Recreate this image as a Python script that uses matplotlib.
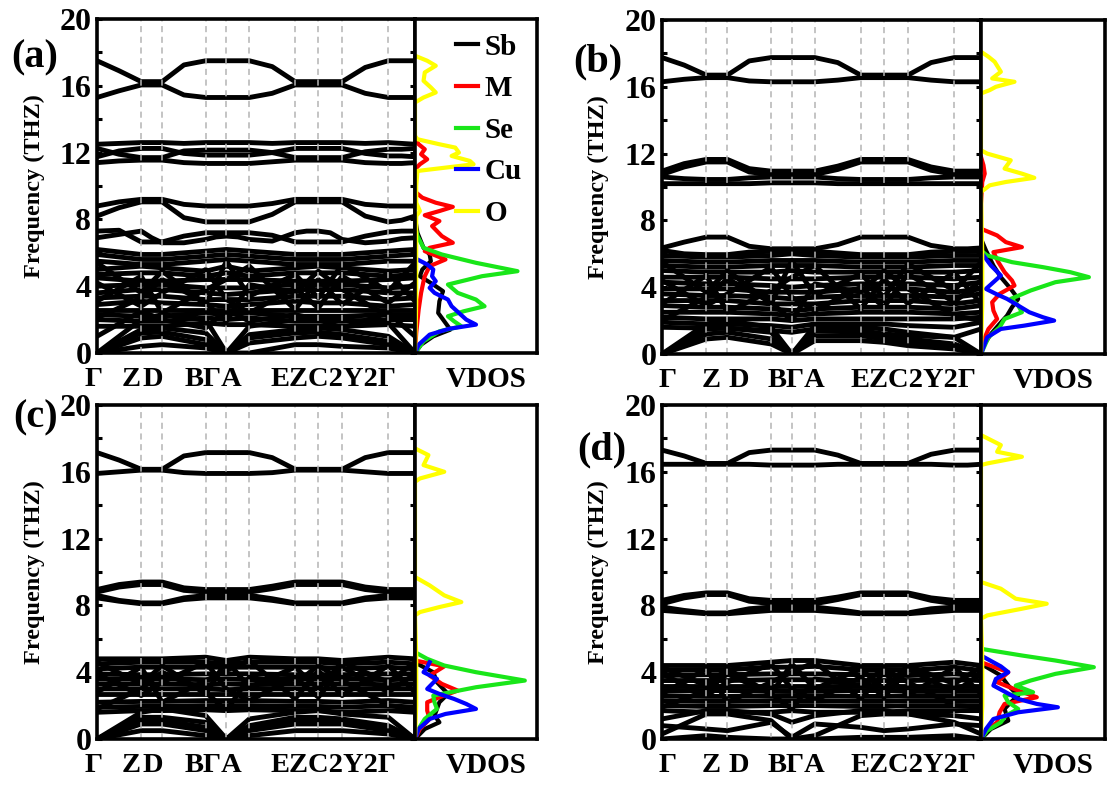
import numpy as np
import matplotlib
matplotlib.use("Agg")
import matplotlib.pyplot as plt

# ---------------------------- data ----------------------------

# high-symmetry points along the k-path (fraction of the path length)
K_NODES = [0.0, 0.139, 0.205, 0.342, 0.407, 0.479, 0.623, 0.696, 0.771, 0.916, 1.0]

# k-path labels and their x positions (axes fraction), left and right column
K_LABELS = ["Γ", "Z", "D", "BΓA", "EZC2Y2Γ"]
K_LABEL_X_LEFT = [-0.011, 0.108, 0.175, 0.365, 0.744]
K_LABEL_X_RIGHT = [0.016, 0.154, 0.241, 0.423, 0.787]

SPECIES = ["Sb", "M", "Se", "Cu", "O"]
SPECIES_COLORS = ["black", "#ff0000", "#19e619", "#0000ff", "#ffff00"]

# optical branches, sampled at the nodes and the middle of each segment (21 points)
A_OPT = [
    [17.5, 16.9, 16.25, 16.25, 16.25, 17.25, 17.5, 17.5, 17.5, 17.5, 17.5, 17.15, 16.25, 16.25, 16.25, 16.25, 16.25, 17.1, 17.5, 17.5, 17.5],
    [15.3, 15.7, 16.05, 16.05, 16.05, 15.45, 15.3, 15.3, 15.3, 15.3, 15.3, 15.55, 16.05, 16.05, 16.05, 16.05, 16.05, 15.55, 15.3, 15.3, 15.3],
    [12.5, 12.55, 12.6, 12.6, 12.6, 12.55, 12.6, 12.6, 12.6, 12.6, 12.6, 12.55, 12.6, 12.6, 12.6, 12.6, 12.6, 12.55, 12.6, 12.55, 12.5],
    [12.25, 11.9, 11.7, 11.7, 11.7, 12.1, 12.15, 12.15, 12.15, 12.15, 12.15, 12.0, 11.7, 11.7, 11.7, 11.7, 11.7, 12.05, 12.2, 12.2, 12.25],
    [11.75, 12.1, 12.25, 12.25, 12.25, 11.95, 11.85, 11.85, 11.85, 11.85, 11.85, 12.0, 12.25, 12.25, 12.25, 12.25, 12.25, 11.95, 11.8, 11.8, 11.75],
    [11.4, 11.5, 11.55, 11.55, 11.55, 11.4, 11.35, 11.35, 11.35, 11.35, 11.35, 11.45, 11.55, 11.55, 11.55, 11.55, 11.55, 11.4, 11.35, 11.35, 11.4],
    [8.8, 9.05, 9.2, 9.2, 9.2, 8.9, 8.8, 8.8, 8.8, 8.8, 8.8, 8.95, 9.2, 9.2, 9.2, 9.2, 9.2, 8.9, 8.8, 8.8, 8.8],
    [8.2, 8.7, 9.05, 9.05, 9.05, 8.1, 7.85, 7.85, 7.85, 7.85, 7.85, 8.3, 9.05, 9.05, 9.05, 9.05, 9.05, 8.2, 7.85, 7.95, 8.2],
    [7.3, 7.35, 6.65, 6.65, 6.65, 7.0, 7.2, 7.2, 7.2, 7.2, 7.2, 7.05, 6.65, 6.65, 6.65, 6.65, 6.65, 7.0, 7.25, 7.3, 7.3],
    [6.9, 7.1, 7.3, 6.9, 6.6, 6.6, 6.8, 6.95, 7.0, 6.95, 6.8, 6.7, 7.2, 7.3, 7.3, 7.2, 6.8, 6.6, 6.7, 6.85, 6.9],
]
B_OPT = [
    [17.75, 17.3, 16.7, 16.7, 16.7, 17.55, 17.75, 17.75, 17.75, 17.75, 17.75, 17.45, 16.7, 16.7, 16.7, 16.7, 16.7, 17.45, 17.75, 17.75, 17.75],
    [16.3, 16.45, 16.55, 16.55, 16.55, 16.35, 16.3, 16.3, 16.3, 16.3, 16.3, 16.4, 16.55, 16.55, 16.55, 16.55, 16.55, 16.4, 16.3, 16.3, 16.3],
    [10.95, 11.4, 11.65, 11.65, 11.65, 11.1, 10.95, 10.95, 10.95, 10.95, 10.95, 11.25, 11.65, 11.65, 11.65, 11.65, 11.65, 11.2, 10.95, 10.95, 10.95],
    [10.75, 11.2, 11.5, 11.5, 11.5, 10.9, 10.75, 10.75, 10.75, 10.75, 10.75, 11.05, 11.5, 11.5, 11.5, 11.5, 11.5, 11.0, 10.75, 10.75, 10.75],
    [10.6, 10.5, 10.45, 10.45, 10.45, 10.55, 10.6, 10.6, 10.6, 10.6, 10.6, 10.5, 10.45, 10.45, 10.45, 10.45, 10.45, 10.55, 10.6, 10.6, 10.6],
    [10.2, 10.2, 10.2, 10.2, 10.2, 10.2, 10.25, 10.25, 10.25, 10.25, 10.25, 10.2, 10.2, 10.2, 10.2, 10.2, 10.2, 10.2, 10.2, 10.2, 10.2],
    [6.35, 6.7, 7.0, 7.0, 7.0, 6.45, 6.3, 6.3, 6.3, 6.3, 6.3, 6.55, 7.0, 7.0, 7.0, 7.0, 7.0, 6.5, 6.3, 6.3, 6.35],
    [6.2, 6.0, 5.95, 5.95, 5.95, 6.1, 6.15, 6.15, 6.2, 6.15, 6.15, 6.05, 5.95, 5.95, 5.95, 5.95, 5.95, 6.1, 6.15, 6.15, 6.2],
]
C_OPT = [
    [17.15, 16.7, 16.15, 16.15, 16.15, 16.95, 17.15, 17.15, 17.15, 17.15, 17.15, 16.85, 16.15, 16.15, 16.15, 16.15, 16.15, 16.85, 17.15, 17.15, 17.15],
    [15.9, 16.0, 16.1, 16.1, 16.1, 15.95, 15.9, 15.9, 15.9, 15.9, 15.9, 15.95, 16.1, 16.1, 16.1, 16.1, 16.1, 16.0, 15.9, 15.9, 15.9],
    [8.95, 9.25, 9.4, 9.4, 9.4, 9.05, 8.95, 8.95, 8.95, 8.95, 8.95, 9.15, 9.4, 9.4, 9.4, 9.4, 9.4, 9.1, 8.95, 8.95, 8.95],
    [8.8, 9.1, 9.25, 9.25, 9.25, 8.9, 8.8, 8.8, 8.8, 8.8, 8.8, 9.0, 9.25, 9.25, 9.25, 9.25, 9.25, 8.95, 8.8, 8.8, 8.8],
    [8.6, 8.3, 8.15, 8.15, 8.15, 8.45, 8.6, 8.6, 8.6, 8.6, 8.6, 8.4, 8.15, 8.15, 8.15, 8.15, 8.15, 8.45, 8.6, 8.6, 8.6],
    [8.45, 8.25, 8.1, 8.1, 8.1, 8.35, 8.45, 8.45, 8.45, 8.45, 8.45, 8.3, 8.1, 8.1, 8.1, 8.1, 8.1, 8.35, 8.45, 8.45, 8.45],
]
D_OPT = [
    [17.3, 16.95, 16.5, 16.5, 16.5, 17.15, 17.3, 17.3, 17.3, 17.3, 17.3, 17.0, 16.5, 16.5, 16.5, 16.5, 16.5, 17.05, 17.3, 17.3, 17.3],
    [16.45, 16.45, 16.45, 16.45, 16.45, 16.45, 16.4, 16.4, 16.4, 16.4, 16.4, 16.45, 16.45, 16.45, 16.45, 16.45, 16.45, 16.45, 16.4, 16.4, 16.45],
    [8.3, 8.6, 8.75, 8.75, 8.75, 8.4, 8.3, 8.3, 8.3, 8.3, 8.3, 8.5, 8.75, 8.75, 8.75, 8.75, 8.75, 8.45, 8.3, 8.3, 8.3],
    [8.1, 8.45, 8.65, 8.65, 8.65, 8.25, 8.1, 8.1, 8.1, 8.1, 8.1, 8.35, 8.65, 8.65, 8.65, 8.65, 8.65, 8.3, 8.1, 8.1, 8.1],
    [7.9, 7.7, 7.55, 7.55, 7.55, 7.8, 7.9, 7.9, 7.9, 7.9, 7.9, 7.75, 7.55, 7.55, 7.55, 7.55, 7.55, 7.8, 7.9, 7.9, 7.9],
    [7.7, 7.6, 7.5, 7.5, 7.5, 7.6, 7.7, 7.7, 7.7, 7.7, 7.7, 7.6, 7.5, 7.5, 7.5, 7.5, 7.5, 7.6, 7.7, 7.7, 7.7],
]

# acoustic and low optical branches, sampled at the high-symmetry points only
A_LOW = [
    [6.2, 5.9, 5.9, 6.1, 6.2, 6.1, 5.9, 5.9, 5.9, 6.1, 6.2],
    [5.9, 5.6, 5.6, 5.8, 5.9, 5.8, 5.6, 5.6, 5.6, 5.8, 5.9],
    [5.5, 5.3, 5.3, 5.5, 5.6, 5.5, 5.3, 5.3, 5.3, 5.5, 5.5],
    [5.0, 5.2, 5.1, 4.9, 5.2, 4.9, 5.1, 5.2, 5.1, 4.9, 5.0],
    [4.7, 4.8, 4.8, 4.6, 4.8, 4.6, 4.8, 4.8, 4.8, 4.6, 4.7],
    [4.5, 4.3, 4.3, 4.4, 4.4, 4.4, 4.3, 4.3, 4.3, 4.4, 4.5],
    [4.0, 4.1, 4.1, 3.9, 3.9, 3.9, 4.1, 4.1, 4.1, 3.9, 4.0],
    [3.6, 3.8, 3.8, 3.6, 3.5, 3.6, 3.8, 3.8, 3.8, 3.6, 3.6],
    [3.3, 3.4, 3.4, 3.2, 3.2, 3.2, 3.4, 3.4, 3.4, 3.2, 3.3],
    [2.9, 3.1, 3.0, 2.9, 2.8, 2.9, 3.1, 3.0, 3.0, 2.8, 2.9],
    [2.6, 2.6, 2.6, 2.6, 2.6, 2.6, 2.6, 2.6, 2.6, 2.6, 2.6],
    [2.3, 2.2, 2.2, 2.4, 2.3, 2.4, 2.2, 2.2, 2.2, 2.3, 2.3],
    [2.0, 1.9, 1.9, 2.1, 2.0, 2.1, 1.9, 1.9, 1.9, 2.0, 2.0],
    [1.6, 1.6, 1.6, 1.8, 1.7, 1.7, 1.6, 1.6, 1.6, 1.7, 1.6],
    [4.2, 2.8, 3.6, 5.0, 3.2, 2.4, 3.9, 2.7, 4.6, 3.0, 4.2],
    [3.1, 4.6, 2.4, 3.8, 4.4, 5.2, 2.6, 4.4, 2.9, 4.8, 3.1],
    [5.4, 3.6, 4.9, 2.9, 5.5, 3.4, 4.7, 3.3, 5.3, 3.7, 5.4],
    [2.1, 3.3, 4.4, 3.0, 1.9, 4.1, 3.6, 4.9, 3.8, 2.2, 2.1],
    [1.0, 2.5, 2.0, 1.5, 2.6, 1.9, 2.3, 2.0, 1.5, 2.4, 1.0],
    [0.0, 2.0, 2.3, 2.0, 0.0, 1.6, 2.0, 2.2, 2.0, 1.8, 0.0],
    [0.0, 1.4, 1.5, 1.2, 0.0, 1.1, 1.4, 1.5, 1.4, 1.0, 0.0],
    [0.0, 1.2, 1.25, 0.8, 0.0, 0.9, 1.2, 1.25, 1.1, 0.7, 0.0],
    [0.0, 0.9, 1.0, 0.5, 0.0, 0.6, 0.9, 1.0, 0.9, 0.5, 0.0],
    [0.0, 0.4, 0.5, 0.3, 0.0, 0.0, 0.5, 0.5, 0.4, 0.3, 0.0],
]
B_LOW = [
    [5.9, 5.8, 5.8, 5.9, 6.0, 5.9, 5.8, 5.8, 5.8, 5.9, 5.9],
    [5.6, 5.5, 5.5, 5.6, 5.6, 5.6, 5.5, 5.5, 5.5, 5.6, 5.6],
    [5.3, 5.2, 5.2, 5.3, 5.3, 5.3, 5.2, 5.2, 5.2, 5.3, 5.3],
    [5.0, 4.9, 4.9, 4.9, 5.0, 4.9, 4.9, 4.9, 4.9, 4.9, 5.0],
    [4.6, 4.6, 4.6, 4.5, 4.5, 4.5, 4.6, 4.6, 4.6, 4.5, 4.6],
    [4.3, 4.2, 4.2, 4.1, 4.0, 4.1, 4.2, 4.2, 4.2, 4.1, 4.3],
    [3.9, 3.9, 3.9, 3.7, 3.7, 3.7, 3.9, 3.9, 3.9, 3.7, 3.9],
    [3.6, 3.5, 3.5, 3.4, 3.3, 3.4, 3.5, 3.5, 3.5, 3.4, 3.6],
    [3.2, 3.2, 3.2, 3.0, 3.0, 3.0, 3.2, 3.2, 3.2, 3.0, 3.2],
    [2.9, 2.8, 2.8, 2.7, 2.6, 2.7, 2.8, 2.8, 2.8, 2.7, 2.9],
    [2.5, 2.5, 2.5, 2.4, 2.3, 2.4, 2.5, 2.5, 2.5, 2.4, 2.5],
    [2.2, 2.1, 2.1, 2.1, 2.0, 2.1, 2.1, 2.1, 2.1, 2.1, 2.2],
    [1.9, 1.8, 1.8, 1.7, 1.6, 1.8, 1.8, 1.8, 1.7, 1.6, 1.9],
    [1.6, 1.55, 1.55, 1.4, 1.3, 1.5, 1.4, 1.2, 1.1, 1.0, 1.5],
    [4.4, 2.9, 3.6, 5.2, 3.4, 2.6, 4.0, 2.8, 4.8, 3.1, 4.4],
    [3.0, 4.7, 2.5, 3.8, 4.6, 5.3, 2.7, 4.5, 3.0, 4.9, 3.0],
    [5.5, 3.7, 5.0, 3.0, 5.6, 3.5, 4.8, 3.4, 5.4, 3.8, 5.5],
    [2.0, 3.4, 4.5, 3.1, 2.0, 4.2, 3.7, 5.0, 3.9, 2.3, 2.0],
    [0.0, 1.8, 2.0, 1.6, 0.0, 1.7, 1.6, 1.5, 1.3, 1.0, 0.0],
    [0.0, 1.5, 1.55, 1.3, 0.0, 1.4, 1.3, 1.1, 0.9, 0.6, 0.0],
    [0.0, 1.2, 1.3, 0.9, 0.0, 1.1, 1.1, 0.9, 0.7, 0.4, 0.0],
    [0.0, 0.9, 1.0, 0.6, 0.0, 0.8, 0.8, 0.7, 0.5, 0.3, 0.0],
]
C_LOW = [
    [4.8, 4.8, 4.8, 4.9, 4.7, 4.9, 4.8, 4.8, 4.7, 4.9, 4.8],
    [4.5, 4.6, 4.6, 4.6, 4.5, 4.6, 4.6, 4.6, 4.5, 4.6, 4.5],
    [4.2, 4.3, 4.3, 4.3, 4.3, 4.3, 4.3, 4.3, 4.2, 4.3, 4.2],
    [3.9, 3.85, 3.85, 3.9, 3.9, 3.9, 3.85, 3.85, 3.85, 3.9, 3.9],
    [3.6, 3.6, 3.6, 3.55, 3.6, 3.55, 3.6, 3.6, 3.6, 3.55, 3.6],
    [3.3, 3.3, 3.3, 3.25, 3.3, 3.25, 3.3, 3.3, 3.3, 3.25, 3.3],
    [3.0, 3.0, 3.0, 3.0, 2.95, 3.0, 3.0, 3.0, 3.0, 3.0, 3.0],
    [2.7, 2.7, 2.7, 2.7, 2.7, 2.7, 2.7, 2.7, 2.7, 2.7, 2.7],
    [2.2, 2.25, 2.25, 2.3, 2.3, 2.3, 2.25, 2.25, 2.2, 2.3, 2.2],
    [1.9, 1.95, 1.95, 2.0, 2.0, 2.0, 1.95, 1.95, 1.9, 2.0, 1.9],
    [1.6, 1.7, 1.7, 1.75, 1.7, 1.75, 1.7, 1.7, 1.6, 1.7, 1.6],
    [3.9, 2.6, 3.4, 4.6, 3.0, 2.3, 3.7, 2.5, 4.3, 2.8, 3.9],
    [2.8, 4.3, 2.2, 3.5, 4.1, 4.7, 2.4, 4.1, 2.6, 4.4, 2.8],
    [4.6, 3.3, 4.4, 2.7, 4.7, 3.1, 4.3, 3.0, 4.6, 3.4, 4.6],
    [1.8, 3.0, 4.0, 2.8, 1.7, 3.7, 3.3, 4.4, 3.5, 2.0, 1.8],
    [0.0, 1.6, 1.8, 1.4, 0.0, 1.2, 1.6, 1.7, 1.5, 1.3, 0.0],
    [0.0, 1.3, 1.3, 1.0, 0.0, 0.8, 1.3, 1.3, 1.2, 0.8, 0.0],
    [0.0, 1.1, 1.1, 0.7, 0.0, 0.6, 1.1, 1.1, 1.0, 0.6, 0.0],
    [0.0, 0.9, 0.9, 0.5, 0.0, 0.5, 0.9, 0.9, 0.9, 0.5, 0.0],
    [0.0, 0.5, 0.5, 0.2, 0.0, 0.2, 0.5, 0.5, 0.5, 0.3, 0.0],
]
D_LOW = [
    [4.4, 4.4, 4.4, 4.6, 4.7, 4.7, 4.4, 4.4, 4.4, 4.6, 4.4],
    [4.1, 4.15, 4.15, 4.3, 4.3, 4.35, 4.15, 4.15, 4.1, 4.3, 4.1],
    [3.8, 3.85, 3.85, 3.9, 3.9, 3.9, 3.85, 3.85, 3.8, 3.9, 3.8],
    [3.5, 3.5, 3.5, 3.55, 3.55, 3.55, 3.5, 3.5, 3.5, 3.55, 3.5],
    [3.2, 3.2, 3.2, 3.2, 3.2, 3.2, 3.2, 3.2, 3.2, 3.2, 3.2],
    [2.9, 2.9, 2.9, 2.9, 2.85, 2.9, 2.9, 2.9, 2.9, 2.9, 2.9],
    [2.6, 2.55, 2.55, 2.6, 2.6, 2.6, 2.55, 2.55, 2.6, 2.6, 2.6],
    [2.3, 2.25, 2.25, 2.3, 2.3, 2.3, 2.25, 2.25, 2.3, 2.3, 2.3],
    [2.0, 1.95, 1.95, 2.0, 2.0, 2.0, 1.95, 1.95, 2.0, 2.0, 2.0],
    [1.7, 1.6, 1.6, 1.6, 1.7, 1.6, 1.6, 1.6, 1.7, 1.7, 1.7],
    [3.9, 2.6, 3.4, 4.5, 3.0, 2.3, 3.7, 2.5, 4.2, 2.8, 3.9],
    [2.7, 4.2, 2.2, 3.4, 4.0, 4.6, 2.4, 4.0, 2.6, 4.3, 2.7],
    [4.3, 3.2, 4.2, 2.7, 4.5, 3.0, 4.2, 3.0, 4.4, 3.3, 4.3],
    [1.9, 2.9, 3.9, 2.7, 1.8, 3.6, 3.2, 4.2, 3.4, 2.0, 1.9],
    [1.2, 1.7, 1.7, 1.5, 1.0, 1.4, 1.7, 1.7, 1.5, 1.4, 1.2],
    [0.3, 1.5, 1.5, 1.1, 0.0, 0.2, 1.4, 1.5, 1.5, 1.0, 0.3],
    [0.8, 0.6, 0.5, 1.0, 0.1, 0.9, 0.7, 0.5, 0.6, 0.9, 0.8],
    [0.0, 0.2, 0.1, 0.0, 0.0, 0.0, 0.1, 0.1, 0.1, 0.2, 0.0],
]

# VDOS curves: (frequency THz, relative density) pairs, one list per species
A_SB = [(8.1, 0.0), (7.2, 0.02), (6.3, 0.07), (5.9, 0.12), (5.5, 0.13), (5.0, 0.06), (4.6, 0.04), (4.1, 0.15), (3.7, 0.23), (3.1, 0.2), (2.4, 0.19), (1.9, 0.24), (1.4, 0.29), (1.0, 0.15), (0.5, 0.05), (0.0, 0.0)]
A_M = [(12.8, 0.0), (12.5, 0.03), (12.2, 0.08), (11.9, 0.05), (11.6, 0.1), (11.3, 0.04), (11.0, 0.0), (10.0, 0.0), (9.6, 0.01), (9.3, 0.06), (9.0, 0.17), (8.75, 0.31), (8.5, 0.2), (8.25, 0.08), (7.9, 0.2), (7.6, 0.14), (7.0, 0.22), (6.6, 0.31), (6.3, 0.12), (6.1, 0.08), (5.6, 0.25), (5.2, 0.12), (4.6, 0.08), (4.3, 0.07), (3.6, 0.05), (2.6, 0.03), (1.2, 0.01), (0.0, 0.0)]
A_SE = [(7.6, 0.0), (7.0, 0.02), (6.3, 0.07), (5.9, 0.22), (5.4, 0.5), (4.9, 0.84), (4.6, 0.55), (4.1, 0.27), (3.6, 0.35), (3.2, 0.5), (2.8, 0.57), (2.5, 0.4), (2.2, 0.27), (1.9, 0.32), (1.6, 0.38), (1.3, 0.2), (0.7, 0.07), (0.0, 0.0)]
A_CU = [(5.6, 0.02), (5.3, 0.1), (5.0, 0.15), (4.6, 0.14), (4.3, 0.17), (3.9, 0.12), (3.6, 0.16), (3.2, 0.27), (2.8, 0.3), (2.4, 0.36), (2.0, 0.42), (1.7, 0.5), (1.45, 0.28), (1.1, 0.12), (0.5, 0.03), (0.0, 0.0)]
A_O = [(17.8, 0.0), (17.5, 0.1), (17.2, 0.17), (16.8, 0.08), (16.3, 0.07), (15.9, 0.13), (15.6, 0.17), (15.3, 0.07), (15.0, 0.0), (13.0, 0.0), (12.8, 0.02), (12.5, 0.2), (12.3, 0.33), (12.0, 0.36), (11.8, 0.3), (11.5, 0.45), (11.3, 0.48), (11.1, 0.25), (10.9, 0.02), (10.0, 0.01), (9.0, 0.01), (8.5, 0.04), (8.2, 0.01), (6.0, 0.01), (3.0, 0.01), (0.0, 0.0)]

B_SB = [(6.9, 0.0), (6.2, 0.04), (5.3, 0.1), (4.6, 0.16), (3.9, 0.24), (3.3, 0.3), (2.8, 0.25), (2.3, 0.21), (1.8, 0.15), (1.2, 0.08), (0.5, 0.02), (0.0, 0.0)]
B_M = [(11.8, 0.0), (11.3, 0.02), (10.8, 0.03), (10.3, 0.01), (9.0, 0.0), (7.5, 0.0), (7.1, 0.13), (6.7, 0.2), (6.4, 0.33), (6.1, 0.1), (5.5, 0.14), (4.9, 0.19), (4.4, 0.25), (4.1, 0.27), (3.6, 0.15), (3.1, 0.09), (2.6, 0.1), (2.1, 0.13), (1.5, 0.06), (0.8, 0.02), (0.0, 0.0)]
B_SE = [(6.2, 0.0), (5.9, 0.05), (5.5, 0.25), (5.2, 0.5), (4.9, 0.72), (4.6, 0.87), (4.3, 0.6), (3.8, 0.4), (3.3, 0.24), (2.9, 0.3), (2.5, 0.33), (2.1, 0.19), (1.6, 0.15), (1.0, 0.06), (0.0, 0.0)]
B_CU = [(5.9, 0.02), (5.3, 0.08), (4.7, 0.16), (4.3, 0.1), (3.9, 0.04), (3.6, 0.12), (3.3, 0.21), (2.9, 0.3), (2.5, 0.39), (2.2, 0.5), (2.0, 0.59), (1.7, 0.35), (1.5, 0.16), (1.0, 0.05), (0.0, 0.0)]
B_O = [(18.1, 0.0), (17.8, 0.06), (17.5, 0.11), (16.9, 0.16), (16.5, 0.09), (16.3, 0.27), (16.0, 0.12), (15.8, 0.07), (15.6, 0.0), (12.2, 0.0), (12.0, 0.05), (11.6, 0.24), (11.1, 0.19), (10.8, 0.33), (10.55, 0.43), (10.3, 0.2), (10.1, 0.07), (9.7, 0.0), (6.0, 0.01), (3.0, 0.01), (0.0, 0.0)]

C_SB = [(4.5, 0.02), (4.0, 0.15), (3.4, 0.18), (2.7, 0.27), (2.2, 0.2), (1.8, 0.18), (1.4, 0.16), (1.0, 0.2), (0.6, 0.08), (0.0, 0.0)]
C_M = [(4.7, 0.0), (4.35, 0.24), (3.8, 0.12), (3.3, 0.22), (2.9, 0.35), (2.5, 0.2), (2.2, 0.1), (1.7, 0.1), (1.2, 0.12), (0.6, 0.04), (0.0, 0.0)]
C_SE = [(5.2, 0.0), (4.8, 0.1), (4.4, 0.24), (4.0, 0.5), (3.5, 0.9), (3.1, 0.5), (2.6, 0.15), (2.2, 0.16), (1.8, 0.18), (1.2, 0.08), (0.5, 0.02), (0.0, 0.0)]
C_CU = [(4.6, 0.12), (4.3, 0.1), (4.0, 0.07), (3.6, 0.18), (3.0, 0.1), (2.7, 0.2), (2.4, 0.32), (2.1, 0.42), (1.8, 0.5), (1.5, 0.25), (1.2, 0.12), (0.6, 0.03), (0.0, 0.0)]
C_O = [(17.4, 0.0), (17.0, 0.11), (16.4, 0.07), (16.0, 0.24), (15.6, 0.04), (15.4, 0.0), (9.7, 0.0), (9.2, 0.12), (8.6, 0.24), (8.2, 0.38), (7.9, 0.2), (7.6, 0.04), (7.4, 0.0), (5.0, 0.01), (2.0, 0.01), (0.0, 0.0)]

D_SB = [(4.5, 0.0), (3.8, 0.16), (3.2, 0.22), (2.6, 0.3), (2.2, 0.24), (1.8, 0.19), (1.1, 0.22), (0.6, 0.08), (0.0, 0.0)]
D_M = [(4.6, 0.0), (4.0, 0.22), (3.4, 0.13), (2.9, 0.3), (2.5, 0.45), (2.1, 0.19), (1.6, 0.15), (1.0, 0.13), (0.5, 0.04), (0.0, 0.0)]
D_SE = [(5.4, 0.0), (5.0, 0.33), (4.7, 0.6), (4.3, 0.91), (3.9, 0.6), (3.5, 0.4), (3.2, 0.28), (2.8, 0.42), (2.6, 0.19), (2.2, 0.22), (1.8, 0.3), (1.4, 0.2), (1.0, 0.16), (0.5, 0.05), (0.0, 0.0)]
D_CU = [(5.0, 0.0), (4.35, 0.16), (4.0, 0.22), (3.6, 0.12), (3.2, 0.1), (2.8, 0.2), (2.4, 0.3), (2.1, 0.45), (1.9, 0.62), (1.6, 0.3), (1.2, 0.1), (0.6, 0.04), (0.0, 0.0)]
D_O = [(18.2, 0.0), (17.6, 0.16), (17.2, 0.13), (16.9, 0.33), (16.5, 0.05), (16.4, 0.0), (9.4, 0.0), (9.0, 0.16), (8.4, 0.28), (8.1, 0.53), (7.8, 0.33), (7.4, 0.05), (7.2, 0.0), (5.0, 0.01), (2.0, 0.01), (0.0, 0.0)]

# ------------------------- layout (pixels) -------------------------
FIG_W, FIG_H = 1115, 787
# left, band divider, right, bottom of each panel
PANEL_BOXES = [(97, 415, 537, 353), (662, 981, 1105, 354), (97, 415, 537, 739), (662, 981, 1105, 739)]
PANEL_HEIGHT = 334
PANEL_NAMES = ["(a)", "(b)", "(c)", "(d)"]
PANEL_NAME_XY = [(35, 58), (598, 62), (36, 418), (602, 450)]

plt.rcParams["font.family"] = "serif"
plt.rcParams["font.serif"] = ["Liberation Serif", "DejaVu Serif"]
plt.rcParams["font.weight"] = "bold"
plt.rcParams["axes.labelweight"] = "bold"

BAND_LW = 3.5


def fine_path(nodes):
    k = np.asarray(nodes, dtype=float)
    out = np.empty(2 * len(k) - 1)
    out[0::2] = k
    out[1::2] = (k[:-1] + k[1:]) / 2
    return out


def draw_panel(fig, box, opt, low, vdos, name, name_xy, label_x, legend=False):
    left, mid, right, bottom = box
    y0 = 1 - bottom / FIG_H
    h = PANEL_HEIGHT / FIG_H
    ax = fig.add_axes([left / FIG_W, y0, (mid - left) / FIG_W, h])
    axv = fig.add_axes([mid / FIG_W, y0, (right - mid) / FIG_W, h])

    kf = fine_path(K_NODES)
    for band in opt:
        ax.plot(kf, band, color="black", lw=BAND_LW, zorder=2)
    for band in low:
        ax.plot(K_NODES, band, color="black", lw=BAND_LW, zorder=2)
    for k in K_NODES[1:-1]:
        ax.axvline(k, color="#b4b4b4", lw=1.1, ls=(0, (4, 3)), zorder=3)

    ax.set_xlim(0, 1)
    ax.set_ylim(0, 20)
    ax.set_xticks([])
    ax.set_yticks(range(0, 21, 4))
    ax.set_yticks(range(2, 20, 4), minor=True)
    ax.tick_params(which="both", direction="in", left=True, right=True,
                   width=2.2, length=3.5, labelsize=23, pad=4)
    ax.set_ylabel("Frequency (THZ)", fontsize=17.5)
    ax.yaxis.set_label_coords(-0.165, 0.5)
    for txt, x in zip(K_LABELS, label_x):
        ax.text(x, -0.078, txt, transform=ax.transAxes, ha="center", va="center", fontsize=20.5)

    handles = []
    for sp, color, curve in zip(SPECIES, SPECIES_COLORS, vdos):
        freq, dens = zip(*curve)
        line, = axv.plot(dens, freq, color=color, lw=3.0, label=sp)
        handles.append(line)
    axv.set_xlim(0, 1)
    axv.set_ylim(0, 20)
    axv.set_xticks([])
    axv.set_yticks([])
    axv.text(0.58, -0.078, "VDOS", transform=axv.transAxes, ha="center", va="center", fontsize=21)
    if legend:
        axv.legend(handles=handles, loc="upper left", bbox_to_anchor=(0.22, 1.0),
                   frameon=False, fontsize=21, handlelength=0.75, handletextpad=0.2,
                   labelspacing=0.5, borderaxespad=0.1)

    for a in (ax, axv):
        for spine in a.spines.values():
            spine.set_linewidth(2.6)
            spine.set_zorder(5)

    fig.text(name_xy[0] / FIG_W, 1 - name_xy[1] / FIG_H, name,
             ha="center", va="center", fontsize=29)


def main():
    fig = plt.figure(figsize=(FIG_W / 100, FIG_H / 100), dpi=100)

    opts = [A_OPT, B_OPT, C_OPT, D_OPT]
    lows = [A_LOW, B_LOW, C_LOW, D_LOW]
    vdos_sets = [
        [A_SB, A_M, A_SE, A_CU, A_O],
        [B_SB, B_M, B_SE, B_CU, B_O],
        [C_SB, C_M, C_SE, C_CU, C_O],
        [D_SB, D_M, D_SE, D_CU, D_O],
    ]
    label_xs = [K_LABEL_X_LEFT, K_LABEL_X_RIGHT, K_LABEL_X_LEFT, K_LABEL_X_RIGHT]

    for i in range(4):
        draw_panel(fig, PANEL_BOXES[i], opts[i], lows[i], vdos_sets[i],
                   PANEL_NAMES[i], PANEL_NAME_XY[i], label_xs[i], legend=(i == 0))

    fig.savefig("out.png", dpi=100)


if __name__ == "__main__":
    main()
